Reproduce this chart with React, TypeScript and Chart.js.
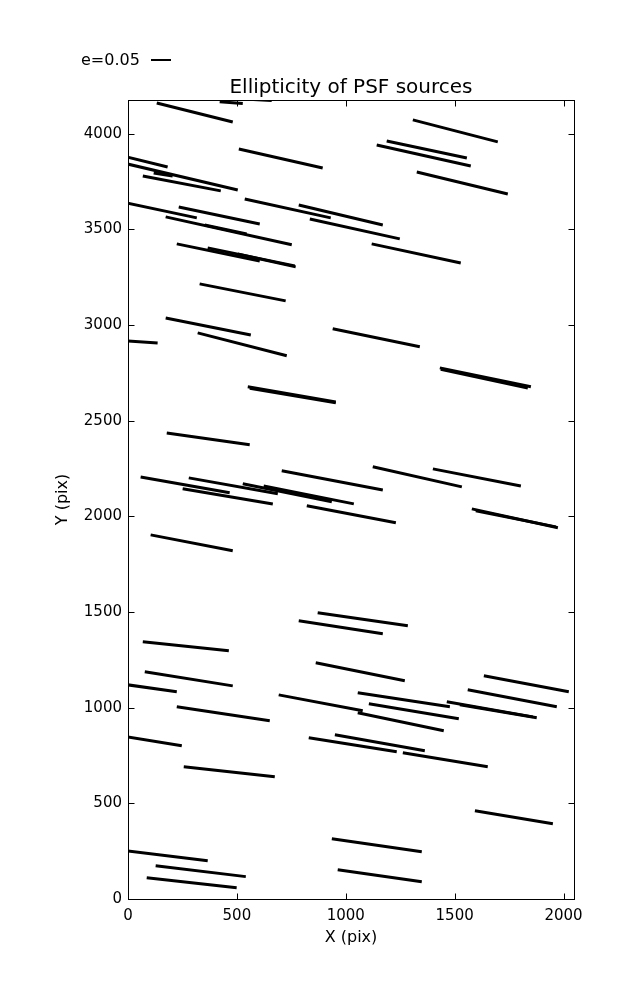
import React, { useEffect, useRef } from "react";
import { Chart, registerables } from "chart.js";

Chart.register(...registerables);

// Whisker segments (start / end), in pixel-data units of the detector
const segX0 = [132, 421, 329, 1308, 1188, 1142, 509, -5, -5, 118, 68, 1326, 536, -5, 784, 233, 173, 835, 352, 224, 1119, 366, 504, 329, 173, 940, 320, -5, 1432, 1436, 550, 559, 178, 1400, 1124, 706, 58, 279, 251, 527, 623, 821, 1579, 1597, 104, 871, 784, 68, 862, 77, 1634, -5, 1560, 1055, 692, 1464, 1524, 1106, 224, 1055, 950, -5, 830, 1262, 256, 1593, 936, -5, 127, 963, 86];
const segY0 = [4160, 4167, 4194, 4072, 3962, 3941, 3920, 3878, 3842, 3795, 3779, 3800, 3659, 3638, 3627, 3617, 3565, 3554, 3523, 3424, 3424, 3403, 3371, 3215, 3037, 2980, 2959, 2917, 2776, 2768, 2677, 2669, 2436, 2248, 2259, 2238, 2206, 2201, 2144, 2170, 2159, 2055, 2039, 2029, 1903, 1496, 1454, 1344, 1235, 1188, 1167, 1120, 1094, 1078, 1067, 1031, 1015, 1020, 1005, 973, 858, 848, 843, 764, 691, 461, 315, 252, 174, 153, 111];
const segX1 = [481, 527, 660, 1698, 1556, 1574, 894, 182, 504, 205, 426, 1744, 931, 316, 1170, 605, 752, 1248, 545, 605, 1528, 766, 770, 724, 564, 1340, 729, 136, 1850, 1836, 954, 954, 559, 1804, 1533, 1170, 467, 688, 665, 936, 1037, 1230, 1974, 1965, 481, 1285, 1170, 463, 1271, 481, 2024, 224, 1969, 1478, 1078, 1859, 1877, 1519, 651, 1450, 1363, 247, 1234, 1652, 674, 1951, 1349, 366, 541, 1349, 499];
const segY1 = [4061, 4158, 4173, 3957, 3873, 3831, 3821, 3826, 3706, 3779, 3701, 3685, 3560, 3560, 3523, 3528, 3419, 3450, 3476, 3335, 3324, 3309, 3304, 3126, 2948, 2886, 2839, 2906, 2677, 2671, 2598, 2593, 2374, 2159, 2154, 2138, 2123, 2118, 2065, 2076, 2065, 1966, 1940, 1945, 1820, 1428, 1386, 1297, 1141, 1114, 1083, 1083, 1005, 1005, 984, 952, 947, 942, 932, 879, 775, 801, 770, 691, 639, 393, 247, 200, 117, 90, 59];

const xTicks = [0, 500, 1000, 1500, 2000];
const yTicks = [0, 500, 1000, 1500, 2000, 2500, 3000, 3500, 4000];
const X_MIN = 0;
const X_MAX = 2048;
const Y_MIN = 0;
const Y_MAX = 4176;

const TITLE = "Ellipticity of PSF sources";
const X_LABEL = "X (pix)";
const Y_LABEL = "Y (pix)";
const KEY_LABEL = "e=0.05";

const FONT = "'DejaVu Sans', sans-serif";

const decorPlugin = {
  id: "decor",
  afterDraw(chart: any) {
    const { ctx, chartArea: a, scales } = chart;
    ctx.save();
    ctx.strokeStyle = "#000";
    ctx.lineWidth = 1;
    // frame
    ctx.strokeRect(a.left + 0.5, a.top + 0.5, a.right - a.left, a.bottom - a.top);
    // inward ticks on all four sides
    const tl = 6;
    ctx.beginPath();
    for (const v of xTicks) {
      const px = Math.round(scales.x.getPixelForValue(v)) + 0.5;
      ctx.moveTo(px, a.bottom + 0.5);
      ctx.lineTo(px, a.bottom + 0.5 - tl);
      ctx.moveTo(px, a.top + 0.5);
      ctx.lineTo(px, a.top + 0.5 + tl);
    }
    for (const v of yTicks) {
      const py = Math.round(scales.y.getPixelForValue(v)) + 0.5;
      ctx.moveTo(a.left + 0.5, py);
      ctx.lineTo(a.left + 0.5 + tl, py);
      ctx.moveTo(a.right + 0.5, py);
      ctx.lineTo(a.right + 0.5 - tl, py);
    }
    ctx.stroke();

    ctx.fillStyle = "#000";
    const cx = (a.left + a.right) / 2;
    // title
    ctx.font = `20px ${FONT}`;
    ctx.textAlign = "center";
    ctx.textBaseline = "alphabetic";
    ctx.fillText(TITLE, cx, 93);
    // axis labels
    ctx.font = `16px ${FONT}`;
    ctx.textBaseline = "middle";
    ctx.fillText(X_LABEL, cx, 938);
    ctx.save();
    ctx.translate(63, (a.top + a.bottom) / 2);
    ctx.rotate(-Math.PI / 2);
    ctx.fillText(Y_LABEL, 0, 0);
    ctx.restore();
    // key
    ctx.font = `16px ${FONT}`;
    ctx.textAlign = "left";
    ctx.textBaseline = "alphabetic";
    ctx.fillText(KEY_LABEL, 81, 65);
    ctx.lineWidth = 2;
    ctx.beginPath();
    ctx.moveTo(151, 60);
    ctx.lineTo(171, 60);
    ctx.stroke();
    ctx.restore();
  },
};

export default function App() {
  const ref = useRef<HTMLCanvasElement | null>(null);
  useEffect(() => {
    document.body.style.margin = "0";
    const canvas = ref.current;
    if (!canvas) return;
    const datasets = segX0.map((x0, i) => ({
      data: [
        { x: x0, y: segY0[i] },
        { x: segX1[i], y: segY1[i] },
      ],
      showLine: true,
      borderColor: "#000",
      borderWidth: 3,
      borderCapStyle: "butt" as const,
      pointRadius: 0,
      pointHoverRadius: 0,
      clip: 0,
    }));
    const chart = new Chart(canvas, {
      type: "scatter",
      data: { datasets },
      options: {
        responsive: false,
        animation: false,
        events: [],
        layout: { padding: { top: 100, right: 63, left: 0, bottom: 0 } },
        plugins: {
          legend: { display: false },
          tooltip: { enabled: false },
          title: { display: false },
        },
        scales: {
          x: {
            type: "linear",
            min: X_MIN,
            max: X_MAX,
            afterBuildTicks: (s: any) => {
              s.ticks = xTicks.map((v) => ({ value: v }));
            },
            afterFit: (s: any) => {
              s.height = 101;
            },
            ticks: {
              autoSkip: false,
              maxRotation: 0,
              padding: 8,
              color: "#000",
              font: { family: FONT, size: 15 },
              callback: (v: any) => String(v),
            },
            grid: { display: false, drawTicks: false },
            border: { display: false },
          },
          y: {
            type: "linear",
            min: Y_MIN,
            max: Y_MAX,
            afterBuildTicks: (s: any) => {
              s.ticks = yTicks.map((v) => ({ value: v }));
            },
            afterFit: (s: any) => {
              s.width = 128;
            },
            ticks: {
              autoSkip: false,
              padding: 6,
              color: "#000",
              font: { family: FONT, size: 15 },
              callback: (v: any) => String(v),
            },
            grid: { display: false, drawTicks: false },
            border: { display: false },
          },
        },
      },
      plugins: [decorPlugin],
    });
    return () => chart.destroy();
  }, []);
  return (
    <div style={{ width: 637, height: 1000, background: "#fff" }}>
      <canvas ref={ref} width={637} height={1000} style={{ display: "block" }} />
    </div>
  );
}
